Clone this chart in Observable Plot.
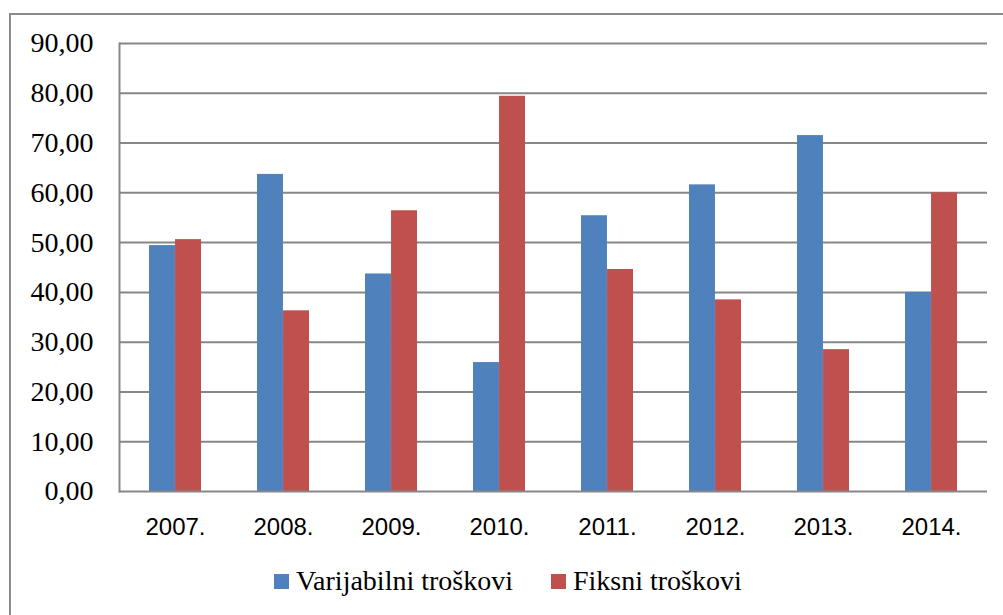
<!DOCTYPE html>
<html>
<head>
<meta charset="utf-8">
<script src="https://cdn.jsdelivr.net/npm/d3@7"></script>
<script src="https://cdn.jsdelivr.net/npm/@observablehq/plot@0.6"></script>
<style>
  html, body { margin: 0; padding: 0; background: #fff; overflow: hidden; width: 1003px; height: 615px; }
  #wrap { position: relative; width: 1003px; height: 615px; }
  #border { position: absolute; left: 9px; top: 13px; width: 2000px; height: 2000px;
            border-top: 2px solid #8a8a8a; border-left: 2px solid #8a8a8a; }
  #chart { position: absolute; left: 0; top: 0; }
  #legend { position: absolute; left: 274px; top: 567px; display: flex; align-items: center;
            font-size: 28px; line-height: 28px; color: #000; }
  .item { display: flex; align-items: center; }
  .sw { width: 15px; height: 15px; margin-right: 7px; }
  .item + .item { margin-left: 38px; }
</style>
</head>
<body>
<div id="wrap">
  <div id="border"></div>
  <div id="chart"></div>
  <div id="legend" style="font-family:'Liberation Serif', 'Times New Roman', serif"></div>
</div>
<script>
const years = ["2007.", "2008.", "2009.", "2010.", "2011.", "2012.", "2013.", "2014."];
const varijabilni = [49.4, 63.7, 43.7, 25.9, 55.4, 61.6, 71.5, 40.0];
const fiksni = [50.6, 36.3, 56.4, 79.4, 44.6, 38.5, 28.5, 60.0];
const seriesNames = ["Varijabilni troškovi", "Fiksni troškovi"];
const seriesColors = ["#4F81BD", "#C0504D"];
const yTicks = [0, 10, 20, 30, 40, 50, 60, 70, 80, 90];

const dataV = years.map((y, i) => ({year: y, series: seriesNames[0], value: varijabilni[i]}));
const dataF = years.map((y, i) => ({year: y, series: seriesNames[1], value: fiksni[i]}));

const fmt = d => d.toFixed(2).replace(".", ",");
const serifFont = "'Liberation Serif', 'Times New Roman', serif";
const sansFont = "'Liberation Sans', Arial, sans-serif";

const W = 1003, H = 560, ML = 119, MR = 16, MT = 43, MB = 69;
const padInner = 0.52;
// half of the band width (in px) so the two series sit side by side in each band
const half = ((W - ML - MR) / years.length) * (1 - padInner) / 2;

const chart = Plot.plot({
  width: W,
  height: H,
  marginLeft: ML,
  marginRight: MR,
  marginTop: MT,
  marginBottom: MB,
  style: {background: "transparent", overflow: "visible"},
  x: {domain: years, paddingInner: padInner, paddingOuter: padInner / 2, label: null},
  y: {domain: [0, 90], label: null},
  color: {domain: seriesNames, range: seriesColors},
  marks: [
    Plot.ruleY(yTicks.filter(d => d > 0), {stroke: "#878787", strokeWidth: 2, strokeOpacity: 1}),
    Plot.barY(dataV, {x: "year", y: "value", fill: "series", insetRight: half}),
    Plot.barY(dataF, {x: "year", y: "value", fill: "series", insetLeft: half}),
    Plot.ruleY([0], {stroke: "#878787", strokeWidth: 2, strokeOpacity: 1}),
    Plot.frame({anchor: "left", stroke: "#878787", strokeWidth: 2, strokeOpacity: 1}),
    Plot.axisX({anchor: "bottom", tickSize: 0, tickPadding: 26, label: null,
      fontSize: 24, fill: "#000"}),
    Plot.axisY({ticks: yTicks, tickSize: 0, tickPadding: 26, tickFormat: fmt, label: null,
      fontSize: 28, fill: "#000"})
  ]
});
chart.querySelectorAll("g[aria-label='y-axis tick label'] text").forEach(t => {
  t.style.fontFamily = serifFont;
});
chart.querySelectorAll("g[aria-label='x-axis tick label'] text").forEach(t => {
  t.style.fontFamily = sansFont;
});
document.getElementById("chart").appendChild(chart);

const legend = document.getElementById("legend");
const colorScale = chart.scale("color");
seriesNames.forEach((name) => {
  const item = document.createElement("div");
  item.className = "item";
  const sw = document.createElement("div");
  sw.className = "sw";
  sw.style.background = colorScale.apply(name);
  const label = document.createElement("span");
  label.textContent = name;
  label.style.fontFamily = serifFont;
  item.appendChild(sw);
  item.appendChild(label);
  legend.appendChild(item);
});
</script>
</body>
</html>
